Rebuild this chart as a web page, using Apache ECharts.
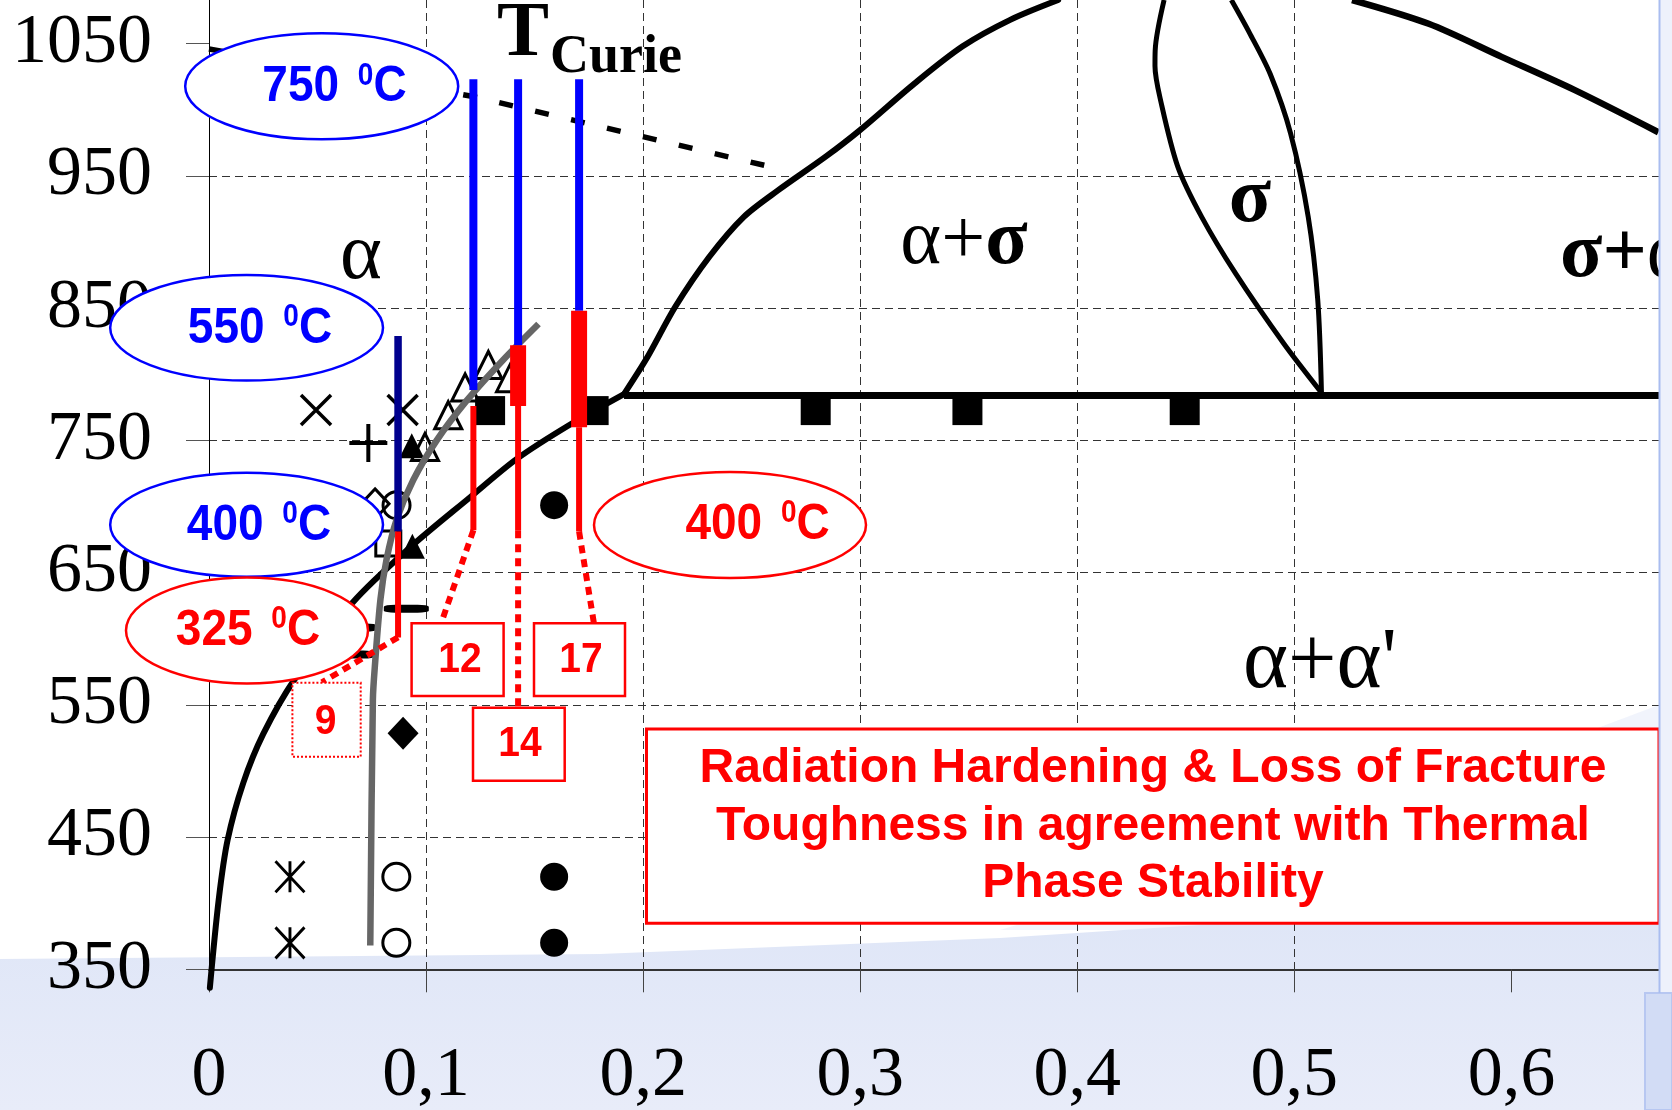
<!DOCTYPE html>
<html><head><meta charset="utf-8">
<script src="https://cdn.jsdelivr.net/npm/echarts@6/dist/echarts.min.js"></script>
<style>html,body{margin:0;padding:0;background:#fff}#c{width:1672px;height:1110px}</style>
</head><body><div id="c"></div>
<script>
// ---------- axis ticks ----------
const xTickValues = [0, 0.1, 0.2, 0.3, 0.4, 0.5, 0.6];
const yTickValues = [350, 450, 550, 650, 750, 850, 950, 1050];

// ---------- phase boundaries [x, T] ----------
const alphaBoundary = [[0.0004,336],[0.0045,403],[0.0086,448],[0.0158,491],[0.025,528],[0.0393,569],[0.066,627],[0.0926,669],[0.1203,707],[0.1418,736],[0.1664,762],[0.1912,785]];
const alphaSigmaLeft = [[0.1912,785],[0.202,813],[0.2148,851],[0.2306,889],[0.2464,919],[0.2621,939],[0.2841,964.5],[0.2999,984.6],[0.3251,1020],[0.3472,1048],[0.3691,1068],[0.3912,1083]];
const sigmaAlphaRight = [[0.5266,1083],[0.5619,1065],[0.5955,1040],[0.629,1015],[0.6677,983]];
const sigmaLensLeft = [[0.5125,786],[0.4952,823],[0.473,876],[0.4573,919],[0.4463,957],[0.4384,1007],[0.4358,1033],[0.4359,1045],[0.44,1083]];
const sigmaLensRight = [[0.5125,786],[0.5108,856],[0.5064,919],[0.4983,982],[0.4889,1027],[0.4794,1058],[0.471,1083]];
const eutectoidLine = [[0.1912,784],[0.668,784]];
const curieLine = [[0,1046],[0.1217,1010],[0.2558,958]];
const grayCurve = [[0.0743,368],[0.0755,554],[0.0765,581],[0.079,630],[0.0818,660],[0.0864,690],[0.0941,720],[0.1049,750],[0.1187,780],[0.1356,811],[0.1518,838]];

// ---------- measurement bars [x, Ttop, Tbottom] ----------
const curieBlueBars = [[0.1218,1023,788],[0.1424,1023,822],[0.1705,1023,848]];
const navyBars = [[0.0871,829,681]];
const redThickBars = [[0.1424,822,776],[0.1705,848,760]];
const redThinBars = [[0.1218,776,682],[0.1424,776,682],[0.1705,760,681],[0.0871,681,601]];
// dotted connectors [[x1,T1],[x2,T2]]
const redDotted = [[[0.1218,682],[0.107,612]],[[0.1424,682],[0.1424,549]],[[0.1705,681],[0.1773,612]],[[0.0871,601],[0.052,567]]];

// ---------- data points ----------
const crossPts = [[0.0493,773],[0.0892,773]];
const plusPts = [[0.0734,748]];
const asteriskPts = [[0.0373,420],[0.0373,370]];
const openCirclePts = [[0.0864,701],[0.0863,420],[0.0863,370]];
const filledCirclePts = [[0.159,701],[0.159,420],[0.159,370]];
const filledTrianglePts = [[0.0934,746],[0.0937,670]];
const openTrianglePts = [[0.0995,745],[0.1102,769],[0.118,790],[0.1287,807],[0.1387,797]];
const filledSquarePts = [[0.1295,772.5],[0.1772,772.5],[0.2795,772.5],[0.3494,772.5],[0.4495,772.5]];
const openSquarePts = [[0.0826,672]];
const openDiamondPts = [[0.0765,702]];
const filledDiamondPts = [[0.0894,528.5]];
const dashPts = [[0.0909,622.7],[0.067,608.5],[0.0659,588]];

// ---------- series ----------
const series = [];
function addLine(data, color, width, o) {
  o = o || {};
  series.push({type:'line', data:data, symbol:'none', silent:true, animation:false,
    smooth: o.smooth || false, clip: o.clip === false ? false : true, z: o.z || 2,
    lineStyle:{color:color, width:width, type:o.dash || 'solid', cap:o.cap || 'butt'}});
}
function addScatter(data, symbol, size, fill, stroke, bw, z) {
  series.push({type:'scatter', data:data, symbol:symbol, symbolSize:size, silent:true, animation:false,
    z: z || 3, itemStyle:{color:fill, borderColor:stroke, borderWidth:bw, opacity:1}});
}
addLine(alphaBoundary, '#000', 6, {smooth:0.3, clip:false, cap:'round'});
addLine(alphaSigmaLeft, '#000', 6, {smooth:0.3, cap:'round'});
addLine(sigmaAlphaRight, '#000', 6.5, {smooth:0.3});
addLine(sigmaLensLeft, '#000', 5, {smooth:0.3});
addLine(sigmaLensRight, '#000', 5, {smooth:0.3});
addLine(eutectoidLine, '#000', 7);
addLine(curieLine, '#000', 5.5, {dash:[14,22.9]});

addScatter(filledSquarePts, 'rect', [30,29], '#000', '#000', 0);
addScatter(crossPts, 'path://M0,0L10,10M10,0L0,10', 30, 'transparent', '#000', 3.5);
addScatter(plusPts, 'path://M5,0L5,10M0,5L10,5', 38, 'transparent', '#000', 4);
addScatter(asteriskPts, 'path://M0,0L10,12M10,0L0,12M5,0L5,12', [29,31], 'transparent', '#000', 3);
addScatter(openCirclePts, 'circle', 27, '#fff', '#000', 3);
addScatter(filledCirclePts, 'circle', 28, '#000', '#000', 0);
addScatter(openTrianglePts, 'triangle', 27, 'transparent', '#000', 3);
addScatter(filledTrianglePts, 'triangle', 25, '#000', '#000', 0);
addScatter(openSquarePts, 'rect', 25, 'transparent', '#000', 3);
addScatter(openDiamondPts, 'diamond', [28,30], 'transparent', '#000', 3);
addScatter(filledDiamondPts, 'diamond', [31,33], '#000', '#000', 0);
addScatter(dashPts, 'roundRect', [45,8], '#000', '#000', 0);

addLine(grayCurve, '#666', 6.5, {smooth:0.3, z:4});

curieBlueBars.forEach(b => addLine([[b[0],b[1]],[b[0],b[2]]], '#0000ff', 8, {z:5}));
navyBars.forEach(b => addLine([[b[0],b[1]],[b[0],b[2]]], '#00008e', 7.5, {z:5}));
redThickBars.forEach(b => addLine([[b[0],b[1]],[b[0],b[2]]], '#ff0000', 16, {z:5}));
redThinBars.forEach(b => addLine([[b[0],b[1]],[b[0],b[2]]], '#ff0000', 6, {z:5}));
redDotted.forEach(s => addLine(s, '#ff0000', 6, {z:5, dash:[8,6]}));

// ---------- annotations (pixel layout) ----------
const sansB = 'Liberation Sans';
const serif = 'Liberation Serif';
function oval(cx, cy, rx, ry, color, num, tx, ty) {
  return [
    {type:'ellipse', z:100, shape:{cx:cx, cy:cy, rx:rx, ry:ry}, style:{fill:'#fff', stroke:color, lineWidth:2.5}},
    {type:'text', z:101, x:tx, y:ty, scaleY:1.1, style:{text:'{n|' + num + ' }{s|0}{n|C}', align:'center', verticalAlign:'middle',
      rich:{n:{fontSize:46, fontWeight:'bold', fontFamily:sansB, fill:color, lineHeight:48},
            s:{fontSize:28, fontWeight:'bold', fontFamily:sansB, fill:color, lineHeight:28, verticalAlign:'top', padding:[0,0,0,6]}}}}
  ];
}
function numBox(x, y, w, h, txt, tx, ty, dotted) {
  return [
    {type:'rect', z:100, shape:{x:x, y:y, width:w, height:h}, style:{fill:'#fff', stroke:'#ff0000', lineWidth: dotted ? 2 : 2.5, lineDash: dotted ? [2,2] : null}},
    {type:'text', z:101, x:tx, y:ty, scaleY:1.1, style:{text:txt, align:'center', verticalAlign:'middle', fontSize:39, fontWeight:'bold', fontFamily:sansB, fill:'#ff0000'}}
  ];
}
function label(x, y, text, size, bold, align) {
  return {type:'text', z:60, x:x, y:y, style:{text:text, align:align || 'center', verticalAlign:'middle', fontSize:size, fontWeight:bold ? 'bold' : 'normal', fontFamily:serif, fill:'#000'}};
}
function richLabel(x, y, text, align) {
  return {type:'text', z:60, x:x, y:y, style:{text:text, align:align || 'center', verticalAlign:'middle',
    rich:{r:{fontSize:78, fontFamily:serif, fill:'#000'}, b:{fontSize:78, fontFamily:serif, fontWeight:'bold', fill:'#000'}}}};
}

const graphic = [].concat(
  [
    {type:'polygon', z:-100, shape:{points:[[0,959],[600,954],[1000,938],[1400,912],[1672,895],[1672,1110],[0,1110]]},
     style:{fill:{type:'linear', x:0, y:0, x2:0, y2:1, colorStops:[{offset:0, color:'#cdd7f2'},{offset:0.12, color:'#dfe6f7'},{offset:1, color:'#e8ecf9'}]}}},
    {type:'polygon', z:-101, shape:{points:[[1000,930],[1300,840],[1672,700],[1672,930]]},
     style:{fill:'rgba(220,228,248,0.4)'}}
  ],
  oval(321.7, 86.3, 136.5, 53, '#0000ff', '750', 334.5, 87.5),
  oval(246.6, 327.8, 136.4, 52.8, '#0000ff', '550', 260, 329),
  oval(246.6, 524.7, 136.4, 52, '#0000ff', '400', 259, 526),
  oval(247, 630.5, 121, 53, '#ff0000', '325', 248, 630.7),
  oval(730, 525, 136, 53, '#ff0000', '400', 757.6, 525),
  numBox(411.6, 623.3, 92, 72.7, '12', 460, 660),
  numBox(534, 623.3, 91, 72.7, '17', 581, 660),
  numBox(473, 707.7, 91.7, 73, '14', 520, 744),
  numBox(292.4, 682.7, 68.3, 74, '9', 325.5, 722, true),
  [
    {type:'rect', z:100, shape:{x:646.5, y:729, width:1012.5, height:194.3}, style:{fill:'#fff', stroke:'#ff0000', lineWidth:3}},
    {type:'text', z:101, x:1153, y:826.5, style:{text:'Radiation Hardening & Loss of Fracture\nToughness in agreement with Thermal\nPhase Stability',
      align:'center', verticalAlign:'middle', fontSize:48, lineHeight:57.5, fontWeight:'bold', fontFamily:sansB, fill:'#ff0000'}},
    label(523, 34.7, 'T', 78, true),
    label(550, 58.5, 'Curie', 54, true, 'left'),
    label(361, 257, 'α', 80, false),
    richLabel(964, 243, '{r|α+}{b|σ}'),
    label(1250, 201, 'σ', 78, true),
    richLabel(1560, 256, '{b|σ+}{r|α}', 'left'),
    label(1320, 664, "α+α'", 86, false),
    {type:'rect', z:110, shape:{x:1660, y:0, width:12, height:993}, style:{fill:'#eef1fb'}},
    {type:'line', z:111, shape:{x1:1659.5, y1:0, x2:1659.5, y2:993}, style:{stroke:'#a9bdf0', lineWidth:2}},
    {type:'rect', z:110, shape:{x:1645, y:993, width:27, height:117}, style:{fill:'#d2dcf5', stroke:'#b7c7f1', lineWidth:2}}
  ]
);

const option = {
  backgroundColor:'#ffffff',
  animation:false,
  grid:{left:209, right:13, top:0, bottom:140.7, outerBoundsMode:'none', containLabel:false},
  xAxis:{type:'value', min:0, max:0.668, interval:0.1,
    axisLine:{show:true, onZero:false, lineStyle:{color:'#333', width:2}},
    axisTick:{show:true, length:23, customValues:xTickValues, lineStyle:{color:'#444', width:1}},
    axisLabel:{customValues:xTickValues, margin:72, fontFamily:serif, fontSize:70, color:'#000',
      formatter: v => v === 0 ? '0' : v.toFixed(1).replace('.', ',')},
    splitLine:{show:true, showMinLine:false, showMaxLine:false, lineStyle:{color:'#333', width:1, type:[8,5]}}},
  yAxis:{type:'value', min:350, max:1083, interval:100,
    axisLine:{show:true, onZero:false, lineStyle:{color:'#000', width:1}},
    axisTick:{show:true, length:23, customValues:yTickValues, lineStyle:{color:'#555', width:1}},
    axisLabel:{customValues:yTickValues, margin:57, fontFamily:serif, fontSize:70, color:'#000',
      formatter: v => String(v)},
    splitLine:{show:true, showMinLine:false, showMaxLine:false, lineStyle:{color:'#333', width:1, type:[8,5]}}},
  series: series,
  graphic: graphic
};
const chart = echarts.init(document.getElementById('c'));
chart.setOption(option);
</script></body></html>
